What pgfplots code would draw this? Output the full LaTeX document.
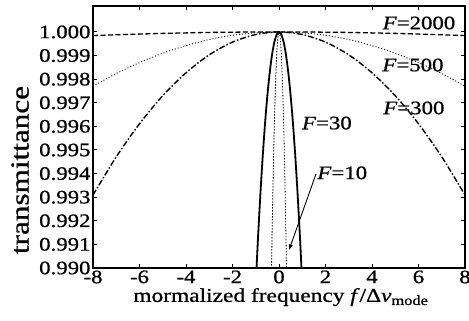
\documentclass[border=0pt]{standalone}
\usepackage{fontspec}
\setmainfont{Liberation Serif}[FakeStretch=1.2, FakeBold=0.8]
\usepackage{pgfplots}
\pgfplotsset{compat=1.18}
\usetikzlibrary{calc}
\begin{document}
\begin{tikzpicture}
\begin{axis}[
  scale only axis, width=372bp, height=262bp,
  xmin=-8, xmax=8, ymin=0.990, ymax=1.0011,
  xtick={-8,-6,-4,-2,0,2,4,6,8},
  ytick={0.990,0.991,0.992,0.993,0.994,0.995,0.996,0.997,0.998,0.999,1.000},
  scaled y ticks=false,
  tick align=inside, major tick length=4bp,
  every tick/.style={black, line width=1bp},
  axis line style={line width=1.6bp},
  tick label style={font=\fontsize{19bp}{22bp}\selectfont},
  /pgf/number format/assume math mode=true,
  xticklabel style={yshift=1bp},
  yticklabel style={xshift=1bp, /pgf/number format/.cd, fixed, fixed zerofill, precision=3},
  xlabel={mormalized frequency \textit{f}/Δ\textit{ν}\textsubscript{mode}},
  ylabel={transmittance},
  xlabel style={font=\fontsize{19.5bp}{22bp}\selectfont, at={(axis description cs:0.505,-0.111)}, anchor=center},
  ylabel style={font=\fontsize{26bp}{28bp}\selectfont, at={(axis description cs:-0.196,0.374)}, anchor=center},
  clip=true,
]
% F=2000
\addplot[black, line width=1.3bp, dash pattern=on 5bp off 2.5bp] coordinates {
(-8,0.99985) (-7,0.99988) (-6,0.99991) (-5,0.99994) (-4,0.99996) (-3,0.99998) (-2,0.99999) (-1,1.0) (0,1.0)
(1,1.0) (2,0.99999) (3,0.99998) (4,0.99996) (5,0.99994) (6,0.99991) (7,0.99988) (8,0.99985)};
% F=500
\addplot[black, line width=0.9bp, dash pattern=on 1bp off 2bp, smooth] coordinates {
(-8,0.99770) (-7,0.99824) (-6,0.99870) (-5,0.99910) (-4,0.99942) (-3,0.99968) (-2,0.99986) (-1,0.99996) (0,1.0)
(1,0.99996) (2,0.99986) (3,0.99968) (4,0.99942) (5,0.99910) (6,0.99870) (7,0.99824) (8,0.99770)};
% F=300
\addplot[black, line width=1.4bp, dash pattern=on 6bp off 2bp on 1.5bp off 2bp, smooth] coordinates {
(-8,0.99309) (-7,0.99471) (-6,0.99611) (-5,0.99730) (-4,0.99827) (-3,0.99903) (-2,0.99957) (-1,0.99989) (0,1.0)
(1,0.99989) (2,0.99957) (3,0.99903) (4,0.99827) (5,0.99730) (6,0.99611) (7,0.99471) (8,0.99309)};
% F=30
\addplot[black, line width=1.8bp, smooth] coordinates {
(-1.0,0.98932) (-0.9,0.99133) (-0.8,0.99314) (-0.7,0.99474) (-0.6,0.99613) (-0.5,0.99731) (-0.4,0.99827) (-0.3,0.99903) (-0.2,0.99957) (-0.1,0.99989) (0,1.0)
(0.1,0.99989) (0.2,0.99957) (0.3,0.99903) (0.4,0.99827) (0.5,0.99731) (0.6,0.99613) (0.7,0.99474) (0.8,0.99314) (0.9,0.99133) (1.0,0.98932)};
% F=10
\addplot[black, line width=0.8bp, dash pattern=on 1.5bp off 1.5bp, smooth] coordinates {
(-0.34,0.98883) (-0.3,0.99128) (-0.25,0.99393) (-0.2,0.99611) (-0.15,0.99781) (-0.1,0.99902) (-0.05,0.99976) (0,1.0)
(0.05,0.99976) (0.1,0.99902) (0.15,0.99781) (0.2,0.99611) (0.25,0.99393) (0.3,0.99128) (0.34,0.98883)};
\node[font=\fontsize{19bp}{22bp}\selectfont] at (axis cs:6.02,1.00038) {\textit{F}=2000};
\node[font=\fontsize{19bp}{22bp}\selectfont] at (axis cs:5.76,0.99860) {\textit{F}=500};
\node[font=\fontsize{19bp}{22bp}\selectfont] at (axis cs:5.8,0.99678) {\textit{F}=300};
\node[font=\fontsize{19bp}{22bp}\selectfont] at (axis cs:2.06,0.99614) {\textit{F}=30};
\node[font=\fontsize{19bp}{22bp}\selectfont] at (axis cs:2.72,0.99403) {\textit{F}=10};
\draw[-latex, line width=0.9bp] (axis cs:1.59,0.99398) -- (axis cs:0.43,0.99076);
\coordinate (SW) at (rel axis cs:0,0);
\coordinate (NE) at (rel axis cs:1,1);
\end{axis}
\pgfresetboundingbox
\path[use as bounding box] ($(SW)+(-93bp,-52bp)$) rectangle ($(NE)+(4bp,6bp)$);
\end{tikzpicture}
\end{document}
